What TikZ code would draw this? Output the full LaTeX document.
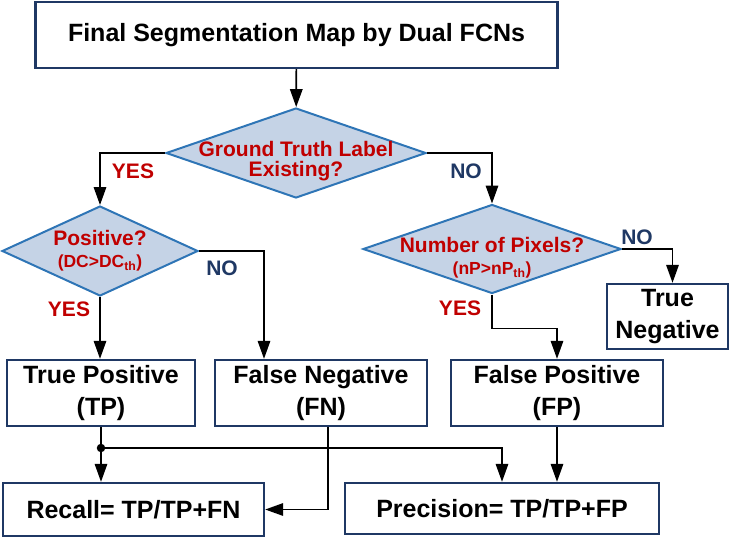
\documentclass[tikz,border=0pt]{standalone}
\usepackage{fontspec}
\setmainfont{Liberation Sans}
\usetikzlibrary{shapes.geometric,arrows.meta}

\definecolor{navy}{RGB}{31,56,100}
\definecolor{qfill}{RGB}{197,211,230}
\definecolor{qline}{RGB}{46,117,182}
\definecolor{darkred}{RGB}{192,0,0}

\begin{document}
\begin{tikzpicture}[x=1pt,y=-1pt,
  box/.style={shape=rectangle,draw=navy,line width=2.4pt,inner sep=0pt,align=center,font=\fontsize{25}{32}\selectfont\bfseries},
  decision/.style={shape=diamond,draw=qline,fill=qfill,line width=2pt,inner sep=0pt},
  qtext/.style={align=center,text=darkred,inner sep=0pt,font=\fontsize{21}{20}\selectfont\bfseries},
  yes/.style={text=darkred,font=\fontsize{21}{21}\selectfont\bfseries},
  no/.style={text=navy,font=\fontsize{21}{21}\selectfont\bfseries},
  link/.style={draw=black,line width=1.7pt,-{Triangle[length=18pt,width=12.5pt]}},
  dot/.style={shape=circle,fill=black,inner sep=0pt,minimum size=8.5pt}]
\useasboundingbox (0,0) rectangle (742,539);

\node[box,minimum width=522pt,minimum height=66pt] (0) at (296.5,35) {Final Segmentation Map by Dual FCNs};
\node[decision,minimum width=260pt,minimum height=90pt,label={[qtext,yshift=-8pt]center:Ground Truth Label\\Existing?}] (1) at (296,153) {};
\node[decision,minimum width=196pt,minimum height=90pt,label={[qtext]center:Positive?\\[2pt]{\fontsize{17.5}{17.5}\selectfont(DC>DC\textsubscript{th})}}] (2) at (100,251) {};
\node[decision,minimum width=258pt,minimum height=89pt,label={[qtext,yshift=-9pt]center:Number of Pixels?\\[2pt]{\fontsize{17.5}{17.5}\selectfont(nP>nP\textsubscript{th})}}] (3) at (492,249) {};

\node[box,minimum width=188pt,minimum height=66pt] (4) at (101,393) {True Positive\\(TP)};
\node[box,minimum width=212pt,minimum height=66pt] (5) at (321,393) {False Negative\\(FN)};
\node[box,minimum width=212pt,minimum height=66pt] (6) at (557,393) {False Positive\\(FP)};
\node[box,minimum width=121pt,minimum height=65pt] (7) at (667.5,316.5) {True\\Negative};
\node[box,minimum width=261pt,minimum height=53pt] (8) at (133.5,509.5) {Recall= TP/TP+FN};
\node[box,minimum width=314pt,minimum height=51pt] (9) at (502,508.5) {Precision= TP/TP+FP};
\node[dot] (10) at (4.south |- 0,448) {};

\node[yes] (11) at (133,171) {YES};
\node[no] (12) at (466,171) {NO};
\node[yes] (13) at (69,309) {YES};
\node[no] (14) at (222,268) {NO};
\node[no] (15) at (637,237) {NO};
\node[yes] (16) at (460,308) {YES};

\path [link] (0) -- (1);
\path [link] (1.west) -| (2.north);
\path [link] (1.east) -| (3.north);
\path [link] (2.south) -- (2.south |- 4.north);
\path [link] (2.east) -| ([xshift=-57pt]5.north);
\path [link] (3.east) -| ([xshift=5pt]7.north);
\path [link] (3.south) -- ++(0,34) -| (6.north);
\path [link] (4.south) -- (4.south |- 8.north);
\path [link] (10) -| (9.north);
\path [link] ([xshift=7pt]5.south) |- (8.east);
\path [link] (6.south) -- (6.south |- 9.north);
\end{tikzpicture}
\end{document}
